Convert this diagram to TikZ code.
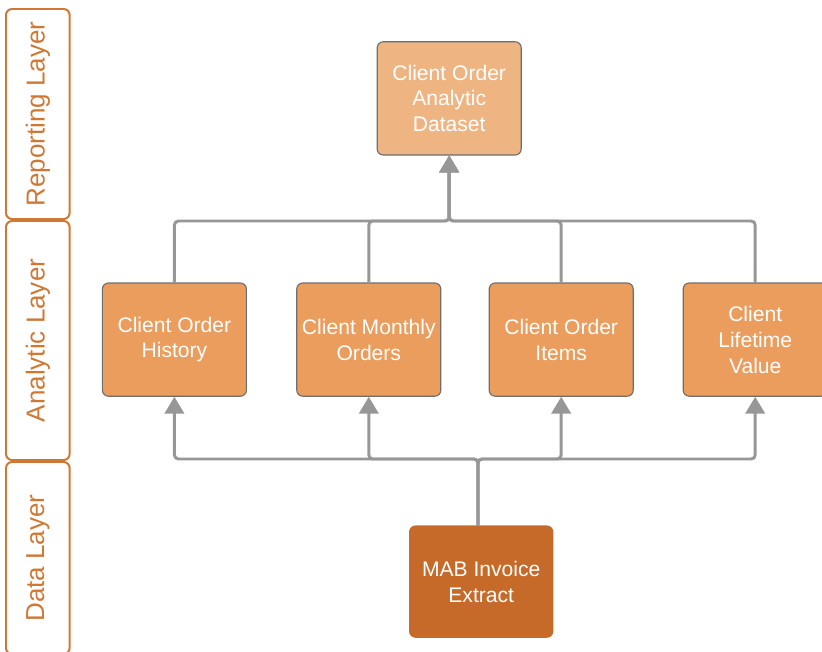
\documentclass[tikz,border=0pt]{standalone}
\usepackage{fontspec}
\setmainfont{Liberation Sans}
\usetikzlibrary{arrows.meta}
\definecolor{layerorange}{HTML}{CF7834}
\definecolor{tablefill}{HTML}{EA9D5D}
\definecolor{reportfill}{HTML}{EEB583}
\definecolor{sourcefill}{HTML}{C66A29}
\definecolor{boxedge}{HTML}{6E6E6E}
\definecolor{linkgray}{HTML}{979797}

\begin{document}
\begin{tikzpicture}[
	layertab/.style={draw=layerorange, line width=1.4pt, rounded corners=0.15cm, rotate=90,
		minimum height=1.59cm, text=layerorange, font=\fontsize{18.5}{22}\selectfont},
	tablebox/.style={draw=boxedge, line width=0.8pt, rounded corners=0.15cm, fill=tablefill,
		text=white, align=center, minimum width=3.6cm, minimum height=2.83cm,
		font=\fontsize{15}{18.4}\selectfont},
	link/.style={draw=linkgray, line width=2.1pt, rounded corners=0.1cm,
		-{Triangle[width=0.48cm,length=0.42cm]}}
	]
		\clip (0,0) rectangle (20.55,-16.275);

		% layers down the left side
		\draw (0.945,-2.85) node[layertab, minimum width=5.25cm] (rep) {Reporting Layer}
		(0.945,-8.5125) node[layertab, minimum width=5.975cm] (ana) {Analytic Layer}
		(0.945,-13.95) node[layertab, minimum width=4.8cm] (dat) {Data Layer};

		% tables
		\draw (11.23,-2.46) node[tablebox, fill=reportfill] (coad) {Client Order\\Analytic\\Dataset}
		(4.36,-8.49) node[tablebox] (coh) {Client Order\\History}
		(9.22,-8.49) node[tablebox] (cmo) {Client Monthly\\Orders}
		(14.03,-8.49) node[tablebox] (coi) {Client Order\\Items}
		(18.88,-8.49) node[tablebox] (clv) {Client\\Lifetime\\Value}
		(12.03,-14.54) node[tablebox, fill=sourcefill, draw=sourcefill, minimum width=3.58cm, minimum height=2.78cm] (mab) {MAB Invoice\\Extract};

		\coordinate (topbus) at (11.23,-5.525);
		\coordinate (lowbus) at (11.95,-11.475);

		\draw[link] (coh.north) |- (topbus) -- (coad.south);
		\draw[link] (cmo.north) |- (topbus) -- (coad.south);
		\draw[link] (coi.north) |- (topbus) -- (coad.south);
		\draw[link] (clv.north) |- (topbus) -- (coad.south);

		\draw[link] (lowbus |- mab.north) -- (lowbus) -| (coh.south);
		\draw[link] (lowbus |- mab.north) -- (lowbus) -| (cmo.south);
		\draw[link] (lowbus |- mab.north) -- (lowbus) -| (coi.south);
		\draw[link] (lowbus |- mab.north) -- (lowbus) -| (clv.south);
	\end{tikzpicture}
\end{document}
